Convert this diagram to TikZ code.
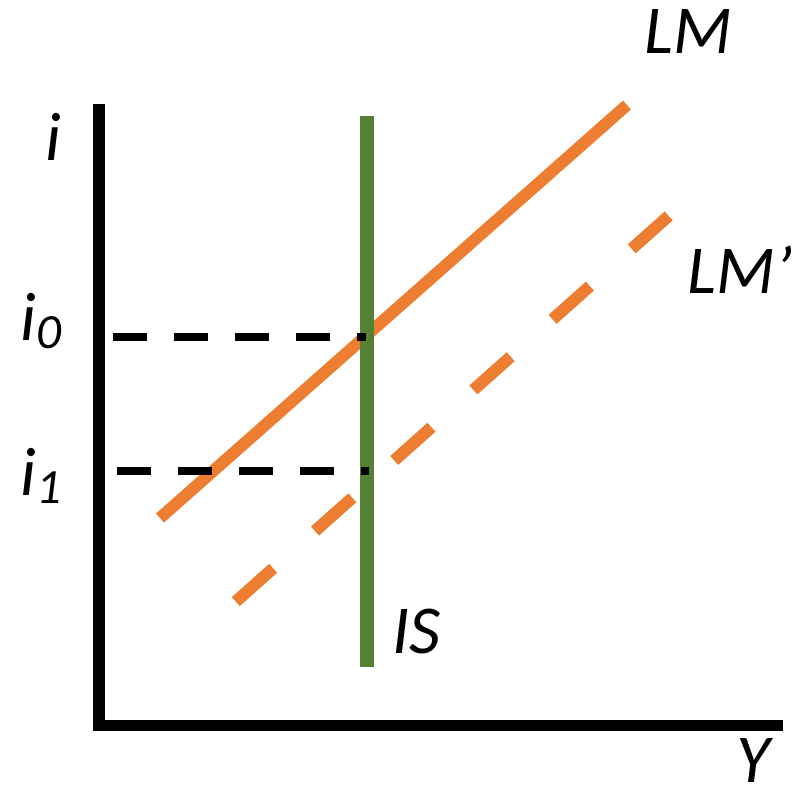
\documentclass[tikz,border=0pt]{standalone}
\usepackage{fontspec}
\setmainfont{Carlito}
\usetikzlibrary{positioning}
\definecolor{lmorange}{RGB}{237,125,49}
\definecolor{isgreen}{RGB}{84,130,53}
\newcommand{\lsub}[1]{\raisebox{-0.08cm}{\fontsize{14}{16}\selectfont #1}}
\tikzset{
  axis/.style={line width=0.115cm,black,line join=miter},
  isline/.style={line width=0.13cm,isgreen},
  lmline/.style={line width=0.12cm,lmorange},
  lmshift/.style={lmline,dash pattern=on 0.50cm off 0.56cm},
  guide/.style={line width=0.072cm,black,dash pattern=on 0.335cm off 0.275cm},
  lab/.style={font=\fontsize{19.5}{22}\selectfont\itshape,inner sep=0pt,anchor=base west}
}
\begin{document}
\begin{tikzpicture}[x=0.01cm,y=-0.01cm]
  \useasboundingbox (0,0) rectangle (794,799);
  % axes
  \coordinate (ytop) at (99,104); \coordinate (xend) at (783,725.5);
  \draw[axis] (ytop) |- (xend);
  % LM and shifted LM'
  \coordinate (lm1) at (160,518); \coordinate (lm2) at (627,105);
  \coordinate (lmp1) at (235.8,601.6); \coordinate (lmp2) at (668.7,215.9);
  \draw[lmline] (lm1) -- (lm2);
  \draw[lmshift] (lmp1) -- (lmp2);
  % IS
  \coordinate (is1) at (367,116); \coordinate (is2) at (367,667);
  \draw[isline] (is1) -- (is2);
  % interest rate guides
  \coordinate (g0a) at (113,337); \coordinate (g0b) at (366,337);
  \coordinate (g1a) at (117,471); \coordinate (g1b) at (369,471);
  \draw[guide] (g0a) -- (g0b);
  \draw[guide] (g1a) -- (g1b);
  % labels
  \node[lab] (li) at (45,160) {i};
  \node[lab] (li0) at (20,340) {i\lsub{0}};
  \node[lab] (li1) at (20,495) {i\lsub{1}};
  \node[lab] (llm) at (644,53) {LM};
  \node[lab] (llmp) at (687,293) {LM’};
  \node[lab] (lis) at (392,653) {IS};
  \node[lab] (ly) at (736,782) {Y};
\end{tikzpicture}
\end{document}
